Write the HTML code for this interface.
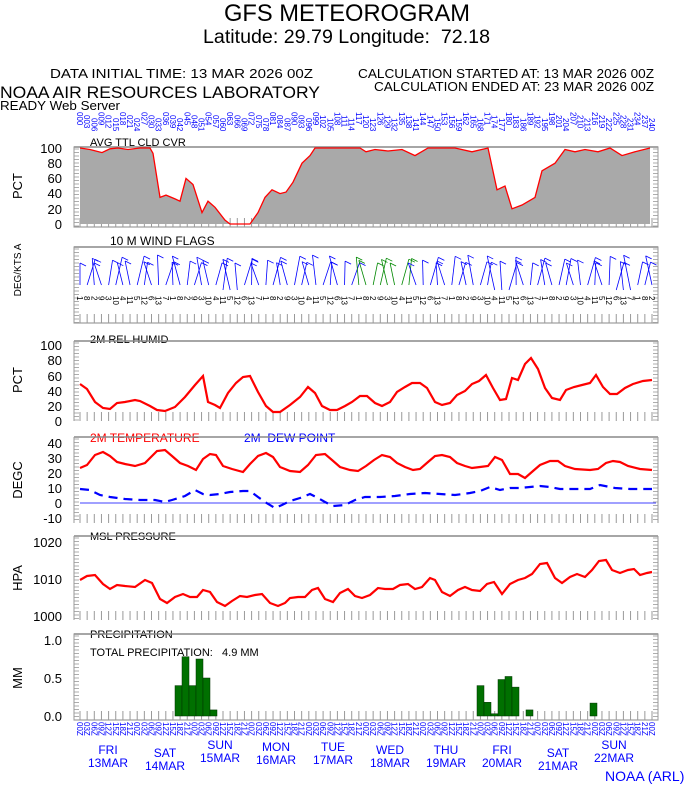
<!DOCTYPE html>
<html><head><meta charset="utf-8"><style>
body{margin:0;background:#fff;width:694px;height:788px;overflow:hidden}
svg{display:block;font-family:"Liberation Sans",sans-serif}
</style></head><body>
<svg id="s" width="694" height="788" xmlns="http://www.w3.org/2000/svg">
<text x="224" y="21" font-size="24" textLength="246" lengthAdjust="spacingAndGlyphs">GFS METEOROGRAM</text>
<text x="203" y="43" font-size="19" textLength="287" lengthAdjust="spacingAndGlyphs">Latitude: 29.79 Longitude:&#160; 72.18</text>
<text x="50" y="78" font-size="13" textLength="263" lengthAdjust="spacingAndGlyphs">DATA INITIAL TIME: 13 MAR 2026 00Z</text>
<text x="358" y="78" font-size="13" textLength="296" lengthAdjust="spacingAndGlyphs">CALCULATION STARTED AT: 13 MAR 2026 00Z</text>
<text x="374" y="91" font-size="13" textLength="280" lengthAdjust="spacingAndGlyphs">CALCULATION ENDED AT: 23 MAR 2026 00Z</text>
<text x="0" y="98" font-size="17" textLength="320" lengthAdjust="spacingAndGlyphs">NOAA AIR RESOURCES LABORATORY</text>
<text x="0" y="110" font-size="13" textLength="120" lengthAdjust="spacingAndGlyphs">READY Web Server</text>
<text x="90" y="146" font-size="11">AVG TTL CLD CVR</text>
<text x="110" y="245" font-size="12">10 M  WIND FLAGS</text>
<text x="90" y="343" font-size="11">2M REL HUMID</text>
<text x="90" y="442" font-size="12" fill="#f00">2M TEMPERATURE</text>
<text x="244" y="442" font-size="12" fill="#00f">2M&#160; DEW POINT</text>
<text x="90" y="540" font-size="11">MSL PRESSURE</text>
<text x="90" y="638" font-size="11">PRECIPITATION</text>
<text x="90" y="656" font-size="11">TOTAL PRECIPITATION:&#160;&#160; 4.9 MM</text>
<text x="605" y="781" font-size="14" fill="#00f">NOAA (ARL)</text>
<g id="g"></g>
</svg>
<script>
const g=document.getElementById('g');let h='';
const X0=80,X1=652,N=80,dx=(X1-X0)/N;
function t(x,y,s,o){h+=`<text x="${x}" y="${y}" ${o||''}>${s}</text>`;}
function ylab(vals,ys){vals.forEach((v,i)=>t(62,ys[i]+5,v,'font-size="13" text-anchor="end"'));}
ylab(['100','80','60','40','20','0'],[148,163,178,193,209,224]);
ylab(['100','80','60','40','20','0'],[345,360,376,391,406,421]);
ylab(['40','30','20','10','0','-10'],[443,458,473,488,503,518]);
ylab(['1020','1010','1000'],[542,579,616]);
ylab(['1.0','0.5','0.0'],[640,678,716]);
function rl(x,y,s,fs){h+=`<text transform="translate(${x},${y}) rotate(-90)" font-size="${fs||13}" text-anchor="middle">${s}</text>`;}
rl(22,186,'PCT');rl(21,270,'DEG/KTS  A',10);rl(22,380,'PCT');rl(22,480,'DEGC');rl(22,578,'HPA');rl(22,678,'MM');
function box(y0,y1,full){
 h+=`<line x1="74" y1="${y0}" x2="658" y2="${y0}" stroke="#888" stroke-width="1.5"/>`;
 if(full){h+=`<rect x="74" y="${y0}" width="584" height="${y1-y0}" fill="none" stroke="#888"/>`;}
 for(let y=y0+2;y<y1;y+=3.5){h+=`<line x1="74" y1="${y}" x2="79" y2="${y}" stroke="#999" stroke-width=".8"/><line x1="653" y1="${y}" x2="658" y2="${y}" stroke="#999" stroke-width=".8"/>`;}
 h+=`<line x1="74" y1="${y0}" x2="74" y2="${y1}" stroke="#999"/><line x1="658" y1="${y0}" x2="658" y2="${y1}" stroke="#999"/>`;
 for(let i=0;i<=N;i++){const x=X0+i*dx;h+=`<line x1="${x}" y1="${y1-9}" x2="${x}" y2="${y1}" stroke="#999" stroke-width="1"/>`;}
}
box(147,227,true);box(247,323,true);box(341,421);box(437,523);box(536,620);box(634,720,true);
h+=`<line x1="80" y1="503" x2="656" y2="503" stroke="#00f" stroke-width=".8"/>`;
const cl=[[80,100],[90,98],[102,94],[110,99],[118,100],[128,98],[140,100],[150,100],[153,93],[160,35],[166,38],[175,33],[180,30],[186,60],[193,52],[202,15],[208,30],[215,22],[225,5],[230,0],[250,0],[258,15],[265,35],[272,45],[280,40],[286,42],[293,55],[302,80],[310,90],[315,100],[360,100],[366,95],[375,98],[388,96],[402,98],[415,90],[428,100],[455,100],[472,95],[488,100],[497,45],[505,50],[512,20],[522,25],[535,35],[542,70],[555,80],[565,98],[575,95],[585,98],[598,95],[610,100],[622,90],[635,95],[650,100]];
const cy=v=>224-v*0.76;
let p=cl.map(a=>a[0]+','+cy(a[1]).toFixed(1)).join(' ');
h+=`<polygon points="80,224 ${p} 650,224" fill="#a9a9a9"/><polyline points="${p}" fill="none" stroke="#f00" stroke-width="1.3"/>`;
function pl(pts,c,w,d){h+=`<polyline points="${pts.map(a=>a.join(',')).join(' ')}" fill="none" stroke="${c}" stroke-width="${w}" ${d?'stroke-dasharray="'+d+'"':''}/>`;}
pl([[80,384],[87,389],[95,402],[103,408],[110,409],[117,403],[125,402],[135,400],[140,401],[150,406],[157,410],[165,411],[175,407],[185,397],[195,385],[203,376],[208,402],[215,405],[220,408],[228,393],[236,383],[243,377],[250,376],[258,392],[266,406],[273,412],[280,412],[290,405],[300,397],[308,387],[315,393],[322,406],[330,410],[337,410],[345,406],[352,402],[360,396],[367,396],[375,403],[382,406],[390,402],[397,392],[405,387],[412,383],[420,383],[427,388],[435,402],[442,405],[450,403],[457,395],[465,391],[472,384],[479,381],[486,375],[493,388],[500,400],[506,399],[512,378],[518,380],[525,364],[531,358],[538,369],[545,388],[552,398],[560,400],[566,390],[574,387],[582,385],[590,383],[596,375],[603,387],[610,394],[617,394],[625,388],[633,384],[643,381],[652,380]],'#f00',2.2);
pl([[80,468],[87,465],[95,455],[103,452],[110,456],[117,462],[125,464],[135,466],[145,463],[150,458],[157,451],[165,450],[172,456],[180,463],[188,466],[196,470],[203,459],[210,454],[216,455],[223,466],[232,469],[243,472],[250,464],[258,456],[266,453],[273,457],[280,467],[290,471],[300,472],[308,465],[316,455],[325,454],[332,460],[340,467],[350,470],[358,471],[366,466],[374,460],[382,455],[390,457],[397,463],[405,467],[413,470],[420,469],[428,462],[435,456],[442,455],[450,457],[457,463],[465,466],[472,468],[480,467],[488,466],[495,457],[502,460],[510,474],[518,474],[525,478],[533,471],[540,465],[550,461],[558,461],[565,466],[575,469],[590,470],[598,469],[606,463],[613,461],[620,462],[628,466],[640,469],[652,470]],'#f00',2.2);
pl([[80,489],[90,490],[100,495],[110,497],[125,499],[140,500],[155,500],[165,502],[172,500],[185,496],[195,490],[203,494],[210,495],[220,494],[230,492],[243,491],[250,491],[258,497],[265,502],[275,508],[282,505],[290,501],[300,498],[310,494],[318,498],[325,502],[333,506],[345,505],[355,500],[365,497],[380,497],[395,496],[410,494],[425,493],[440,494],[455,495],[470,493],[480,491],[490,487],[500,490],[510,488],[520,488],[530,487],[540,486],[550,487],[560,489],[575,489],[590,489],[600,485],[615,488],[630,489],[652,489]],'#00f',2.2,'9,6');
pl([[80,580],[87,576],[95,575],[103,584],[110,589],[117,585],[125,586],[135,587],[145,580],[152,583],[160,599],[167,603],[175,597],[183,594],[190,597],[197,597],[203,590],[210,592],[217,602],[225,606],[232,601],[240,596],[247,597],[255,595],[262,594],[270,603],[278,606],[285,603],[290,598],[298,597],[305,597],[312,590],[318,588],[325,599],[333,602],[340,593],[348,589],[355,596],[362,598],[370,595],[378,588],[385,589],[393,589],[400,585],[408,584],[415,589],[422,587],[430,578],[435,580],[442,592],[450,596],[458,590],[465,587],[472,590],[480,591],[487,584],[494,582],[502,594],[510,584],[518,580],[525,578],[532,574],[540,564],[547,563],[555,578],[562,583],[570,577],[577,574],[585,577],[592,570],[599,561],[606,560],[612,570],[620,573],[628,570],[634,569],[640,575],[647,573],[652,572]],'#f00',2.2);
[[175,.4],[182,.78],[189,.4],[196,.75],[203,.5],[210,.08],[477,.4],[484,.18],[491,.03],[498,.48],[505,.52],[512,.38],[526,.08],[590,.17]].forEach(b=>{const hh=b[1]*76;h+=`<rect x="${b[0]}" y="${716-hh}" width="7" height="${hh}" fill="#007000" stroke="#003000" stroke-width=".5"/>`;});
for(let i=0;i<=N;i++){const x=X0+i*dx;const s=Math.sin(i*1.7)*8;const gr=(i>=39&&i<=46);
 const y0=(i>=20&&i<=22)||(i>=58&&i<=60)||(i>=75&&i<=77)?290:285, y1=255+Math.abs(Math.cos(i))*8;
 h+=`<line x1="${x}" y1="${y0}" x2="${x+s}" y2="${y1}" stroke="${gr?'#080':'#00f'}" stroke-width=".8"/><line x1="${x+s}" y1="${y1}" x2="${x+s+6}" y2="${y1+3}" stroke="${gr?'#080':'#00f'}" stroke-width=".8"/>`;
 h+=`<text transform="translate(${x-3},296) rotate(90)" font-size="8">${(i*7)%13+1}</text>`;}
for(let i=0;i<=N;i++){const x=X0+i*dx;
 h+=`<text transform="translate(${x-3},${112+(i%3)*3}) rotate(90)" font-size="8" fill="#00f">${String(i*3).padStart(3,'0')}</text>`;
 h+=`<text transform="translate(${x-3},722) rotate(90)" font-size="8" fill="#00f">${String((i*3)%24).padStart(2,'0')}Z</text>`;}
const days=[['FRI','13MAR',108,750],['SAT','14MAR',165,753],['SUN','15MAR',220,745],['MON','16MAR',276,747],['TUE','17MAR',333,747],['WED','18MAR',390,750],['THU','19MAR',446,750],['FRI','20MAR',502,750],['SAT','21MAR',558,753],['SUN','22MAR',614,745]];
days.forEach(d=>{t(d[2],d[3]+4,d[0],'font-size="12" fill="#00f" text-anchor="middle"');t(d[2],d[3]+17,d[1],'font-size="12" fill="#00f" text-anchor="middle"');});
g.innerHTML=h;
</script>
</body></html>
